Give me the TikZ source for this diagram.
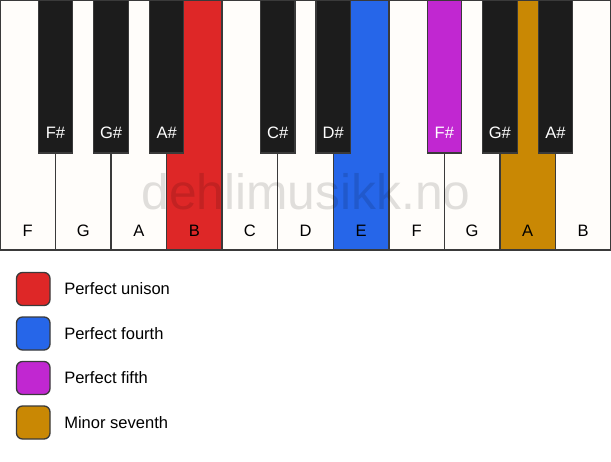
\documentclass[tikz,border=0pt]{standalone}
\usepackage{fontspec}
\setmainfont{Liberation Sans}
\definecolor{ivory}{HTML}{FFFDFA}
\definecolor{keyline}{HTML}{3A3A3A}
\definecolor{ebony}{HTML}{1C1C1C}
\definecolor{unisonred}{HTML}{DE2727}
\definecolor{fourthblue}{HTML}{2666E9}
\definecolor{fifthpurple}{HTML}{C127D1}
\definecolor{seventhgold}{HTML}{C98804}

\begin{document}
\begin{tikzpicture}[x=0.75pt,y=-0.75pt]
      \useasboundingbox (0,0) rectangle (611,461);
      \tikzstyle{whitekey}=[draw=keyline, line width=1.1pt]
      \tikzstyle{blackkey}=[draw=keyline, line width=0.9pt]
      \tikzstyle{keylabel}=[font=\fontsize{12.4}{14}\selectfont, inner sep=0pt]
      \tikzstyle{swatch}=[draw=keyline, line width=1pt, rounded corners=4.5pt]
      % white keys
      \foreach \name/\col [count=\i from 0] in {F/ivory,G/ivory,A/ivory,B/unisonred,C/ivory,D/ivory,E/fourthblue,F/ivory,G/ivory,A/seventhgold,B/ivory} {
        \draw[whitekey, fill=\col] (\i*55.545,0) rectangle ({(\i+1)*55.545},250);
        \node[keylabel] (white\i) at ({(\i+0.5)*55.545},231) {\name};
      }
      % black keys
      \foreach \name/\col/\i in {F\#/ebony/1,G\#/ebony/2,A\#/ebony/3,C\#/ebony/5,D\#/ebony/6,F\#/fifthpurple/8,G\#/ebony/9,A\#/ebony/10} {
        \draw[blackkey, fill=\col] ({\i*55.545-17.2},0) rectangle ({\i*55.545+17.2},153);
        \node[keylabel, text=white] (black\i) at (\i*55.545,133) {\name};
      }
      \node[font=\fontsize{37.3}{40}\selectfont, text=black, text opacity=0.12] (mark) at (306,192) {dehlimusikk.no};
      % legend
      \foreach \col/\txt/\y in {unisonred/Perfect unison/289,fourthblue/Perfect fourth/333.5,fifthpurple/Perfect fifth/378,seventhgold/Minor seventh/422.5} {
        \draw[swatch, fill=\col] (16.5,\y-16.5) rectangle (50,\y+16.5);
        \node[keylabel, anchor=west] (legend\y) at (64,\y) {\txt};
      }
\end{tikzpicture}
\end{document}
